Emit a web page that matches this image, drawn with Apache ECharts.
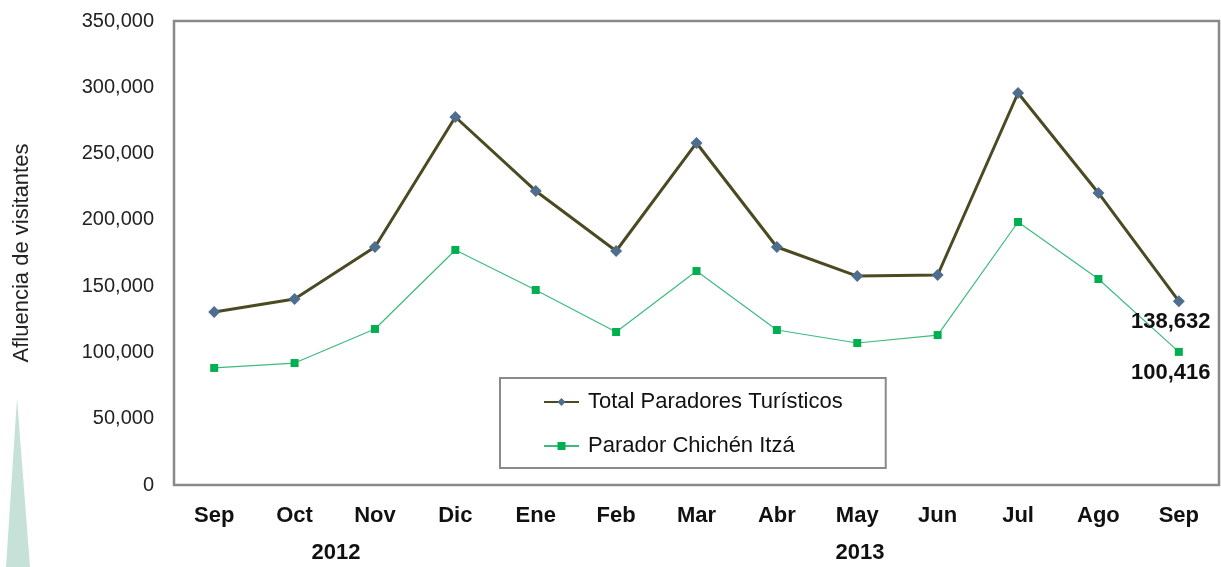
<!DOCTYPE html>
<html>
<head>
<meta charset="utf-8">
<script src="https://cdn.jsdelivr.net/npm/echarts@6/dist/echarts.min.js"></script>
<style>html,body{margin:0;padding:0;background:#fff;}#c{width:1221px;height:567px;}</style>
</head>
<body>
<div id="c"></div>
<script>
var categories = ['Sep','Oct','Nov','Dic','Ene','Feb','Mar','Abr','May','Jun','Jul','Ago','Sep'];
var totalParadores = [130500, 140300, 179500, 277600, 221800, 176500, 258000, 179500, 157600, 158400, 295700, 220300, 138632];
var paradorChichen = [88300, 92000, 117700, 177300, 147100, 115400, 161400, 116900, 107100, 113100, 198400, 155400, 100416];
var yearLabels = ['2012', '2013'];
var seriesNames = ['Total Paradores Turísticos', 'Parador Chichén Itzá'];
var yTicks = {min: 0, max: 350000, interval: 50000};

var fmt = function (v) { return String(v).replace(/\B(?=(\d{3})+(?!\d))/g, ','); };
var lastIdx = categories.length - 1;
var font = 'Liberation Sans, Arial, sans-serif';

var chart = echarts.init(document.getElementById('c'));
chart.setOption({
  animation: false,
  backgroundColor: '#fff',
  textStyle: {fontFamily: font},
  grid: {left: 174, right: 2, top: 21, bottom: 82, show: true, borderColor: '#8a8a8a', borderWidth: 2.5, containLabel: false},
  legend: {
    orient: 'vertical', left: 500, top: 378,
    padding: [13, 43, 11, 43],
    itemWidth: 35, itemHeight: 10, itemGap: 22,
    borderColor: '#8a8a8a', borderWidth: 2, backgroundColor: '#fff',
    textStyle: {fontSize: 22, color: '#111', fontFamily: font, padding: [0, 0, 0, 4]},
    data: seriesNames
  },
  xAxis: {
    type: 'category', data: categories, boundaryGap: true,
    axisLine: {show: false}, axisTick: {show: false},
    axisLabel: {margin: 20, fontSize: 22, fontWeight: 'bold', color: '#111', fontFamily: font}
  },
  yAxis: {
    type: 'value', min: yTicks.min, max: yTicks.max, interval: yTicks.interval,
    name: 'Afluencia de visitantes', nameLocation: 'middle', nameGap: 141, nameRotate: 90,
    nameTextStyle: {fontSize: 22, color: '#222', fontFamily: font},
    axisLine: {show: false}, axisTick: {show: false}, splitLine: {show: false},
    axisLabel: {margin: 20, fontSize: 20, color: '#222', fontFamily: font, formatter: fmt}
  },
  graphic: [
    {type: 'polygon', shape: {points: [[17, 398], [6, 567], [30, 567]]}, style: {fill: '#c6e2d8'}, z: -1},
    {type: 'text', x: 336, y: 553, style: {text: yearLabels[0], fontSize: 22, fontWeight: 'bold', fill: '#111', fontFamily: font, align: 'center', verticalAlign: 'middle'}},
    {type: 'text', x: 860, y: 553, style: {text: yearLabels[1], fontSize: 22, fontWeight: 'bold', fill: '#111', fontFamily: font, align: 'center', verticalAlign: 'middle'}}
  ],
  series: [
    {
      name: seriesNames[0], type: 'line', data: totalParadores,
      symbol: 'diamond', symbolSize: 12,
      lineStyle: {color: '#4b4a22', width: 3},
      itemStyle: {color: '#4f6e8e'},
      label: {
        show: true, position: 'bottom', distance: 4, offset: [-8, 0],
        fontSize: 22, fontWeight: 'bold', color: '#111', fontFamily: font,
        formatter: function (p) { return p.dataIndex === lastIdx ? fmt(p.value) : ''; }
      },
      z: 3
    },
    {
      name: seriesNames[1], type: 'line', data: paradorChichen,
      symbol: 'rect', symbolSize: 8,
      lineStyle: {color: '#3dbb7e', width: 1.2},
      itemStyle: {color: '#00b050'},
      label: {
        show: true, position: 'bottom', distance: 6, offset: [-8, 0],
        fontSize: 22, fontWeight: 'bold', color: '#111', fontFamily: font,
        formatter: function (p) { return p.dataIndex === lastIdx ? fmt(p.value) : ''; }
      },
      z: 2
    }
  ]
});
</script>
</body>
</html>
